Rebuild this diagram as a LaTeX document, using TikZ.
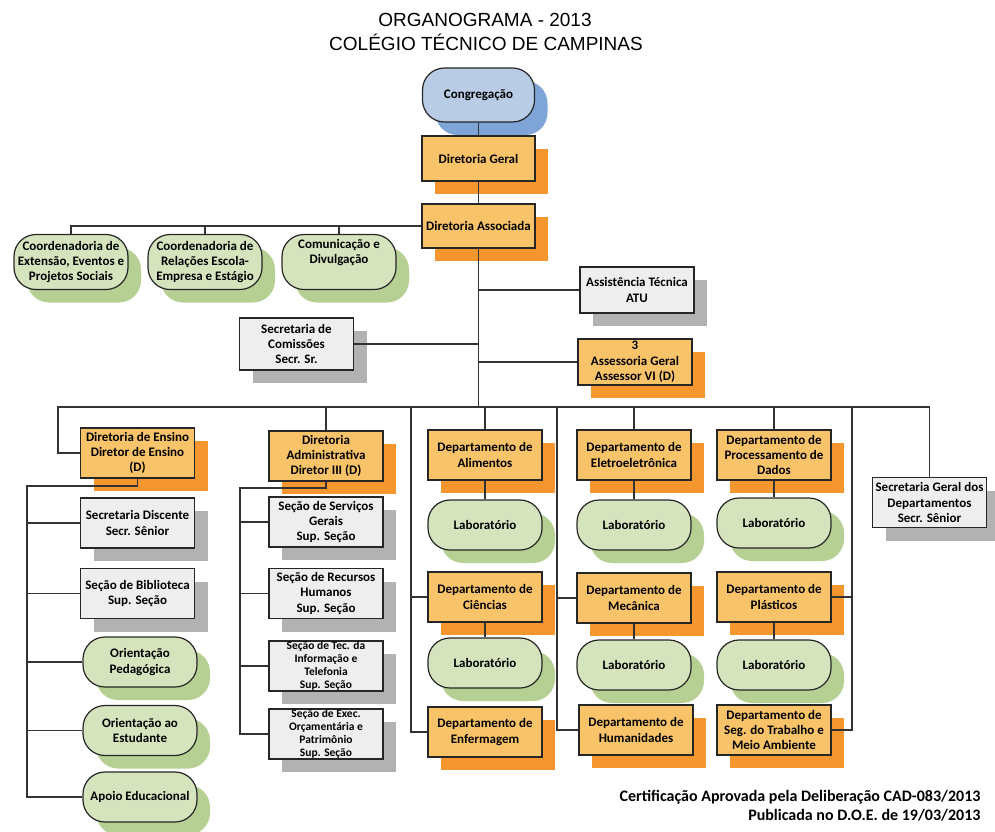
\documentclass[tikz,border=0pt]{standalone}
\usepackage{fontspec}
\setmainfont{Carlito}
\newfontfamily\titlefont{Liberation Sans}
\usetikzlibrary{shadows}

\definecolor{boxorange}{HTML}{F9C36A}
\definecolor{shadeorange}{HTML}{F5962F}
\definecolor{boxgray}{HTML}{EEEEEE}
\definecolor{shadegray}{HTML}{B2B2B2}
\definecolor{boxgreen}{HTML}{D6E4BE}
\definecolor{shadegreen}{HTML}{B6CF93}
\definecolor{boxblue}{HTML}{B8CCE6}
\definecolor{shadeblue}{HTML}{7FA5D8}

\begin{document}
\begin{tikzpicture}[x=1pt, y=-1pt]

\tikzstyle{box} = [draw=black!85, line width=1.2pt, minimum width=114pt, minimum height=50pt, inner sep=1pt, align=center, font=\fontsize{13}{15.3}\selectfont\bfseries];
\tikzstyle{orangebox} = [box, fill=boxorange, drop shadow={shadow xshift=13pt, shadow yshift=-13pt, fill=shadeorange, opacity=1}];
\tikzstyle{graybox} = [box, fill=boxgray, drop shadow={shadow xshift=13pt, shadow yshift=-13pt, fill=shadegray, opacity=1}];
\tikzstyle{greenbox} = [box, rounded corners=22pt, fill=boxgreen, drop shadow={shadow xshift=13pt, shadow yshift=-13pt, fill=shadegreen, opacity=1}];
\tikzstyle{bluebox} = [box, rounded corners=22pt, fill=boxblue, drop shadow={shadow xshift=13pt, shadow yshift=-13pt, fill=shadeblue, opacity=1}];
\tikzstyle{line} = [draw=black!80, line width=1.2pt];
\tikzstyle{small} = [font=\fontsize{11.5}{13}\selectfont\bfseries, inner ysep=0pt];

\useasboundingbox (0,0) rectangle (995,831);

\node(title1) [font=\titlefont\fontsize{19}{23}\selectfont] at (485,20) {ORGANOGRAMA - 2013};
\node(title2) [font=\titlefont\fontsize{19}{23}\selectfont] at (486,42) {COLÉGIO TÉCNICO DE CAMPINAS};

\node(cong) [bluebox, minimum width=112pt, minimum height=54pt] at (478.5,95) {Congregação};
\node(dg) [orangebox, minimum width=113pt, minimum height=45pt] at (478.5,158.5) {Diretoria Geral};
\node(da) [orangebox, minimum width=113pt, minimum height=44pt] at (478.5,226) {Diretoria Associada};

\node(coordext) [greenbox, minimum height=55pt] at (71,262) {Coordenadoria de\\Extensão, Eventos e\\Projetos Sociais};
\node(coordrel) [greenbox, minimum height=55pt] at (205,262) {Coordenadoria de\\Relações Escola-\\Empresa e Estágio};
\node(comdiv) [greenbox, minimum height=55pt] at (339,262) {Comunicação e\\Divulgação\\[6pt]};

\node(secom) [graybox, minimum height=52pt] at (296.5,344) {Secretaria de\\Comissões\\Secr. Sr.};
\node(assist) [graybox, minimum height=46pt] at (637,290) {Assistência Técnica\\ATU};
\node(assess) [orangebox, minimum height=46pt] at (635,362) {3\\Assessoria Geral\\Assessor VI (D)};

\node(direns) [orangebox] at (137.5,453) {Diretoria de Ensino\\Diretor de Ensino\\(D)};
\node(secdis) [graybox] at (137.5,523) {Secretaria Discente\\Secr. Sênior};
\node(secbib) [graybox] at (137.5,593.5) {Seção de Biblioteca\\Sup. Seção};
\node(oriped) [greenbox] at (140,662) {Orientação\\Pedagógica};
\node(oriest) [greenbox] at (140,730.5) {Orientação ao\\Estudante};
\node(apoio) [greenbox] at (140,797) {Apoio Educacional};

\node(diradm) [orangebox] at (326,456) {Diretoria\\Administrativa\\Diretor III (D)};
\node(servger) [graybox] at (326,522) {Seção de Serviços\\Gerais\\Sup. Seção};
\node(rechum) [graybox] at (326,593.5) {Seção de Recursos\\Humanos\\Sup. Seção};
\node(tecinf) [graybox, small] at (326,666) {Seção de Tec. da\\Informação e\\Telefonia\\Sup. Seção};
\node(execorc) [graybox, small] at (326,734) {Seção de Exec.\\Orçamentária e\\Patrimônio\\Sup. Seção};

\node(depali) [orangebox] at (485,455) {Departamento de\\Alimentos};
\node(lab1) [greenbox] at (485,525) {Laboratório};
\node(depcie) [orangebox] at (485,597) {Departamento de\\Ciências};
\node(lab4) [greenbox] at (485,663) {Laboratório};
\node(depenf) [orangebox] at (485,732) {Departamento de\\Enfermagem};

\node(depele) [orangebox] at (634,455) {Departamento de\\Eletroeletrônica};
\node(lab2) [greenbox] at (634,525) {Laboratório};
\node(depmec) [orangebox] at (634,598) {Departamento de\\Mecânica};
\node(lab5) [greenbox] at (634,665) {Laboratório};
\node(dephum) [orangebox] at (636,730) {Departamento de\\Humanidades};

\node(deppro) [orangebox] at (774,455) {Departamento de\\Processamento de\\Dados};
\node(lab3) [greenbox] at (774,523) {Laboratório};
\node(depplas) [orangebox] at (774,597) {Departamento de\\Plásticos};
\node(lab6) [greenbox] at (774,665) {Laboratório};
\node(depseg) [orangebox] at (774,730) {Departamento de\\Seg. do Trabalho e\\Meio Ambiente};

\node(secger) [graybox] at (929.5,502.5) {Secretaria Geral dos\\Departamentos\\Secr. Sênior};

\node(cert) [anchor=east, font=\fontsize{16}{19}\selectfont\bfseries] at (984,797) {Certificação Aprovada pela Deliberação CAD-083/2013};
\node(pub) [anchor=east, font=\fontsize{16}{19}\selectfont\bfseries] at (984,815) {Publicada no D.O.E. de 19/03/2013};

\coordinate(busL) at (58,407);
\coordinate(ensL) at (27,486);
\coordinate(admL) at (240,488);
\coordinate(colA) at (411,407);
\coordinate(colB) at (557,407);
\coordinate(colC) at (852,407);

\draw [line] (cong.south) -- (dg.north);
\draw [line] (dg.south) -- (da.north);
\draw [line] (da.south) -- (da.south |- busL);

\draw [line] (da.west) -| (coordext.north);
\draw [line] (coordrel.north) -- (coordrel.north |- da.west);
\draw [line] (comdiv.north) -- (comdiv.north |- da.west);

\draw [line] (secom.east) -- (secom.east -| da.south);
\draw [line] (assist.west) -- (assist.west -| da.south);
\draw [line] (assess.west) -- (assess.west -| da.south);

\draw [line] (direns.west) -| (busL) -| (secger.north);

\draw [line] (direns.south) |- (ensL) |- (apoio.west);
\foreach \n in {secdis, secbib, oriped, oriest}
  \draw [line] (ensL |- \n.west) -- (\n.west);

\draw [line] (diradm.north) -- (diradm.north |- busL);
\draw [line] (diradm.south) |- (admL) |- (execorc.west);
\foreach \n in {servger, rechum, tecinf}
  \draw [line] (admL |- \n.west) -- (\n.west);

\draw [line] (colA) |- (depenf.west);
\draw [line] (colA |- depcie.west) -- (depcie.west);
\draw [line] (colB) |- (dephum.west);
\draw [line] (colB |- depmec.west) -- (depmec.west);
\draw [line] (colC) |- (depseg.east);
\draw [line] (colC |- depplas.east) -- (depplas.east);

\foreach \n in {depali, depele, deppro}
  \draw [line] (\n.north) -- (\n.north |- busL);

\draw [line] (depali) -- (lab1);
\draw [line] (depcie) -- (lab4);
\draw [line] (depele) -- (lab2);
\draw [line] (depmec) -- (lab5);
\draw [line] (deppro) -- (lab3);
\draw [line] (depplas) -- (lab6);

\end{tikzpicture}
\end{document}
